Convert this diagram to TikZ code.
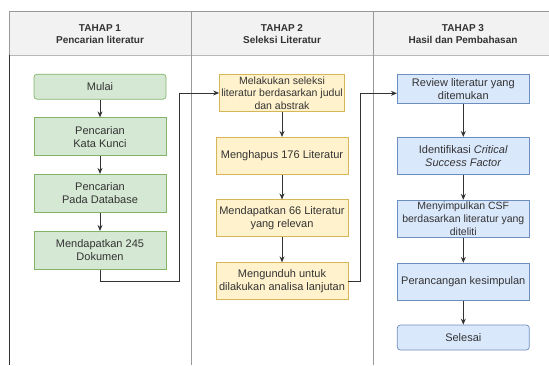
\documentclass[tikz,border=0pt]{standalone}
\usepackage{fontspec}
\setmainfont{Liberation Sans}
\usetikzlibrary{arrows.meta}

\definecolor{hijauisi}{HTML}{D5E8D4}
\definecolor{hijaugaris}{HTML}{82B366}
\definecolor{kuningisi}{HTML}{FFF2CC}
\definecolor{kuninggaris}{HTML}{D6B656}
\definecolor{biruisi}{HTML}{DAE8FC}
\definecolor{birugaris}{HTML}{6C8EBF}
\definecolor{kepalaisi}{HTML}{F2F2F2}
\definecolor{garisabu}{HTML}{999999}
\definecolor{garisgelap}{HTML}{333333}

\tikzset{
  kotak/.style={draw, minimum width=132pt, minimum height=38pt, inner sep=1pt,
    align=center, line width=0.7pt, text=garisgelap,
    font=\fontsize{11}{13}\selectfont},
  hijau/.style={kotak, fill=hijauisi, draw=hijaugaris},
  kuning/.style={kotak, fill=kuningisi, draw=kuninggaris},
  biru/.style={kotak, fill=biruisi, draw=birugaris},
  ujung/.style={rounded corners=3pt},
  kecil/.style={font=\fontsize{10.5}{12.7}\selectfont},
  judul/.style={align=center, inner sep=0pt, text=garisgelap,
    font=\fontsize{10}{12.3}\selectfont\bfseries},
  panah/.style={draw=garisgelap, line width=0.9pt, -{Stealth[length=6pt,width=5pt]}},
}

\begin{document}
\begin{tikzpicture}[x=1pt,y=-1pt]
    \useasboundingbox (0,0) rectangle (549,365);
    % kepala tabel
    \fill[kepalaisi] (9,11) rectangle (549,55);
    \draw[garisabu, line width=0.8pt] (9,55) -- (9,11) -- (549,11);
    \draw[garisabu!70, line width=0.8pt] (9,55) -- (549,55);
    \draw[garisabu, line width=0.9pt] (191,11) -- (191,365);
    \draw[garisabu, line width=0.9pt] (373.3,11) -- (373.3,365);
    \draw[garisgelap, line width=0.9pt] (9,55) -- (9,365);
    \node[judul] (tahap1) at (100,34) {TAHAP 1\\Pencarian literatur};
    \node[judul] (tahap2) at (282,34) {TAHAP 2\\Seleksi Literatur};
    \node[judul] (tahap3) at (463,34) {TAHAP 3\\Hasil dan Pembahasan};
    % tahap 1
    \node[hijau, ujung, minimum height=25pt] (mulai) at (100,86.7) {Mulai};
    \node[hijau] (kunci) at (100,136.7) {Pencarian\\Kata Kunci};
    \node[hijau] (basis) at (100,193.3) {Pencarian\\Pada Database};
    \node[hijau] (dokumen) at (100,250.3) {Mendapatkan 245\\Dokumen};
    % tahap 2
    \node[kuning, kecil, minimum width=125pt, minimum height=37pt] (seleksi) at (282,93) {Melakukan seleksi\\literatur berdasarkan judul\\dan abstrak};
    \node[kuning, minimum height=37pt] (hapus) at (282,155.8) {Menghapus 176 Literatur};
    \node[kuning, minimum height=37pt] (relevan) at (282,218.3) {Mendapatkan 66 Literatur\\yang relevan};
    \node[kuning, minimum height=37pt] (unduh) at (282,281.2) {Mengunduh untuk\\dilakukan analisa lanjutan};
    % tahap 3
    \node[biru, minimum height=29pt] (review) at (463.3,88.8) {Review literatur yang\\ditemukan};
    \node[biru, minimum height=37pt] (csf) at (463.3,155.8) {Identifikasi \textit{Critical}\\\textit{Success Factor}};
    \node[biru, kecil, minimum height=37pt] (simpul) at (463.3,218.7) {Menyimpulkan CSF\\berdasarkan literatur yang\\diteliti};
    \node[biru, minimum height=37pt] (rancang) at (463.3,281.7) {Perancangan kesimpulan};
    \node[biru, ujung, minimum height=25pt] (selesai) at (463.3,337.5) {Selesai};
    % panah
    \draw[panah] (mulai) -- (kunci);
    \draw[panah] (kunci) -- (basis);
    \draw[panah] (basis) -- (dokumen);
    \draw[panah] (seleksi) -- (hapus);
    \draw[panah] (hapus) -- (relevan);
    \draw[panah] (relevan) -- (unduh);
    \draw[panah] (review) -- (csf);
    \draw[panah] (csf) -- (simpul);
    \draw[panah] (simpul) -- (rancang);
    \draw[panah] (rancang) -- (selesai);
    \coordinate (belok1) at (179,93);
    \coordinate (belok2) at (360.3,93.3);
    \draw[panah] (dokumen.south) -- ++(0,11.7) -| (belok1) -- (seleksi.west);
    \draw[panah] (unduh.east) -| (belok2) -- (review.west |- belok2);
\end{tikzpicture}
\end{document}
